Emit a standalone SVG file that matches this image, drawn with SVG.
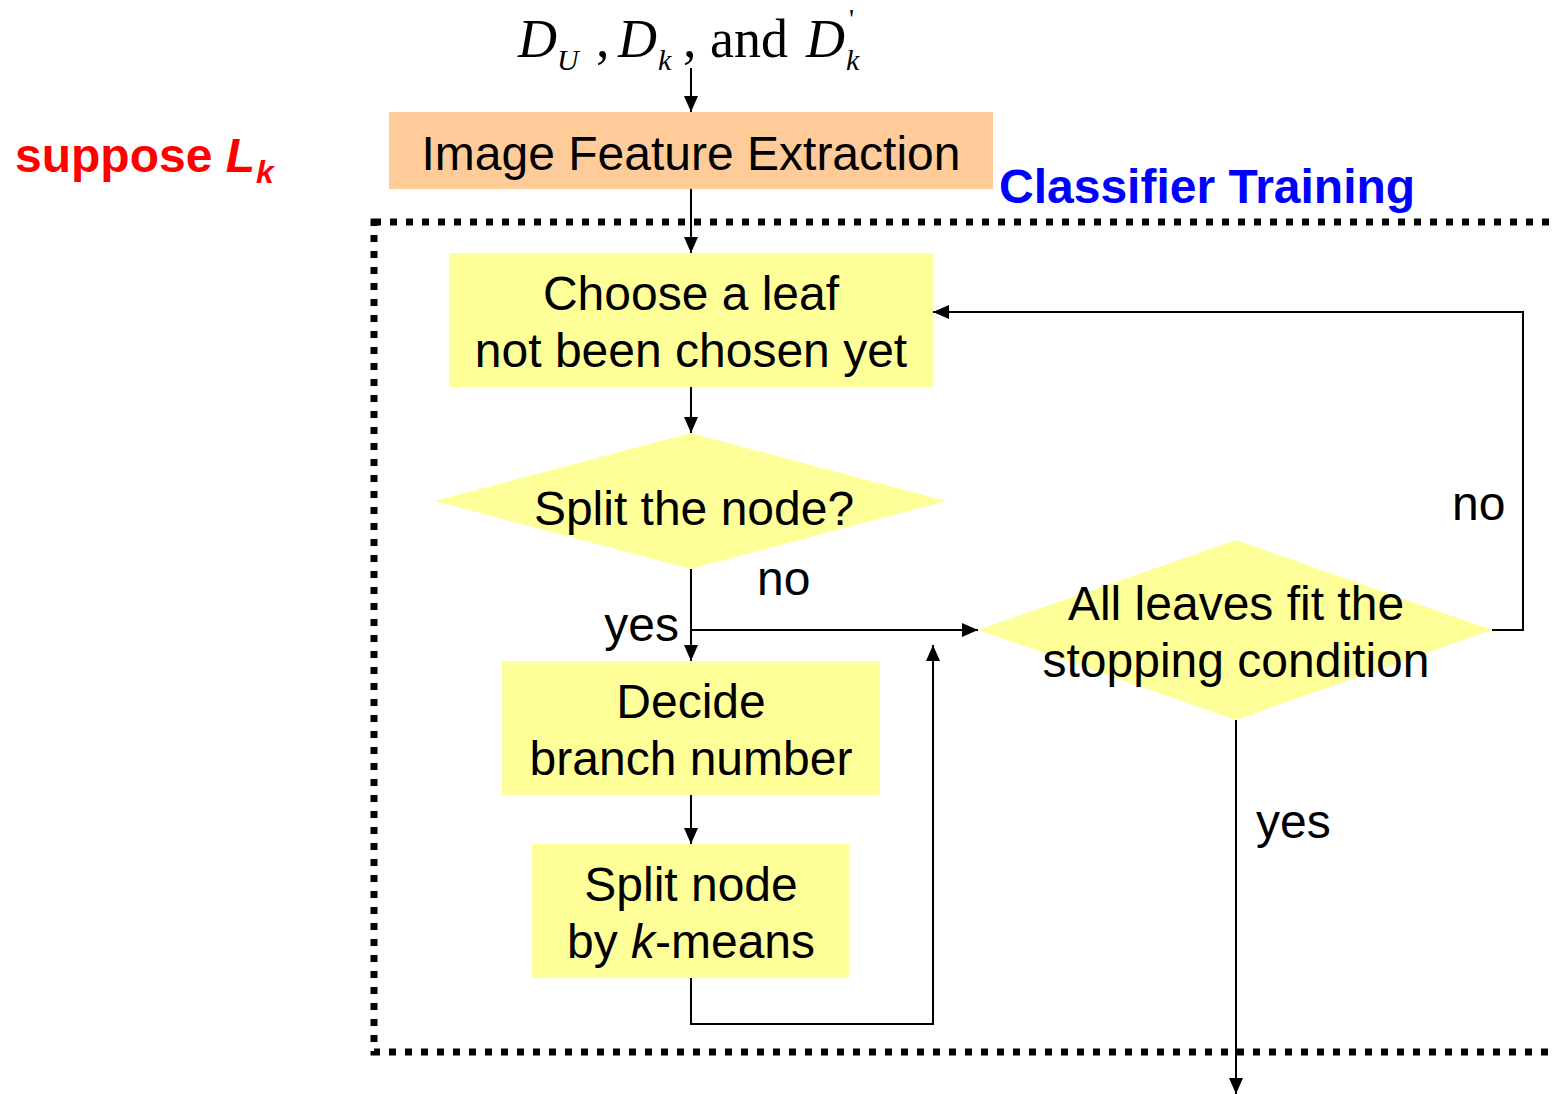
<svg xmlns="http://www.w3.org/2000/svg" width="1553" height="1094" viewBox="0 0 1553 1094">
<defs>
<style>
.t{font-family:"Liberation Sans",Arial,sans-serif;font-size:48px;fill:#000;text-anchor:middle}
.ln{fill:none;stroke:#000;stroke-width:2}
.y{fill:#FFFF99}
.tm{font-family:"Liberation Serif","Times New Roman",serif;fill:#000}
</style>
<marker id="ah" markerUnits="userSpaceOnUse" markerWidth="16" markerHeight="14" refX="16" refY="7" orient="auto">
<path d="M0,0 L16,7 L0,14 Z" fill="#000"/>
</marker>
</defs>
<rect width="1553" height="1094" fill="#fff"/>

<g id="title">
<text class="tm" font-size="54" font-style="italic" x="518" y="57">D</text>
<text class="tm" font-size="30" font-style="italic" x="557" y="70">U</text>
<text class="tm" font-size="54" x="596" y="57">,</text>
<text class="tm" font-size="54" font-style="italic" x="618" y="57">D</text>
<text class="tm" font-size="30" font-style="italic" x="658" y="70">k</text>
<text class="tm" font-size="54" x="683" y="57">, and</text>
<text class="tm" font-size="54" font-style="italic" x="806" y="57">D</text>
<text class="tm" font-size="30" font-style="italic" x="846" y="70">k</text>
<text class="tm" font-size="28" x="849" y="28">'</text>
</g>

<g id="suppose">
<text font-family="'Liberation Sans',Arial,sans-serif" font-weight="bold" font-size="48" fill="#FF0000" x="15" y="172">suppose <tspan font-style="italic">L</tspan></text>
<text font-family="'Liberation Sans',Arial,sans-serif" font-weight="bold" font-style="italic" font-size="32" fill="#FF0000" x="256" y="183">k</text>
</g>

<g id="classifier-label">
<text font-family="'Liberation Sans',Arial,sans-serif" font-weight="bold" font-size="48" fill="#0000FF" x="999" y="203">Classifier Training</text>
</g>

<g id="training-region">
<rect x="374" y="222" width="1300" height="830" fill="none" stroke="#000" stroke-width="7" stroke-dasharray="7 9"/>
</g>

<g id="feature-extraction">
<rect x="389" y="112" width="604" height="77" fill="#FFCC99"/>
<text class="t" x="691" y="170">Image Feature Extraction</text>
</g>

<g id="choose-leaf">
<rect class="y" x="449" y="253" width="484" height="134"/>
<text class="t" x="691" y="310">Choose a leaf</text>
<text class="t" x="691" y="367">not been chosen yet</text>
</g>

<g id="split-decision">
<polygon class="y" points="691,433 946,501 691,569 435,501"/>
<text class="t" x="694" y="525">Split the node?</text>
</g>

<g id="decide-branch">
<rect class="y" x="502" y="661" width="378" height="134"/>
<text class="t" x="691" y="718">Decide</text>
<text class="t" x="691" y="775">branch number</text>
</g>

<g id="split-kmeans">
<rect class="y" x="532" y="844" width="317" height="134"/>
<text class="t" x="691" y="901">Split node</text>
<text class="t" x="691" y="958">by <tspan font-style="italic">k</tspan>-means</text>
</g>

<g id="stop-decision">
<polygon class="y" points="1236,540 1492,630 1236,720 978,630"/>
<text class="t" x="1236" y="620">All leaves fit the</text>
<text class="t" x="1236" y="677">stopping condition</text>
</g>

<g id="connectors">
<path class="ln" d="M691,68 V112" marker-end="url(#ah)"/>
<path class="ln" d="M691,189 V253" marker-end="url(#ah)"/>
<path class="ln" d="M691,387 V433" marker-end="url(#ah)"/>
<path class="ln" d="M691,569 V661" marker-end="url(#ah)"/>
<path class="ln" d="M691,630 H978" marker-end="url(#ah)"/>
<path class="ln" d="M691,795 V844" marker-end="url(#ah)"/>
<path class="ln" d="M691,978 V1024 H933 V645" marker-end="url(#ah)"/>
<path class="ln" d="M1492,630 H1523 V312 H933" marker-end="url(#ah)"/>
<path class="ln" d="M1236,720 V1094" marker-end="url(#ah)"/>
</g>

<g id="labels">
<text class="t" style="text-anchor:end" x="679" y="641">yes</text>
<text class="t" style="text-anchor:start" x="757" y="595">no</text>
<text class="t" style="text-anchor:start" x="1452" y="520">no</text>
<text class="t" style="text-anchor:start" x="1256" y="838">yes</text>
</g>
</svg>
